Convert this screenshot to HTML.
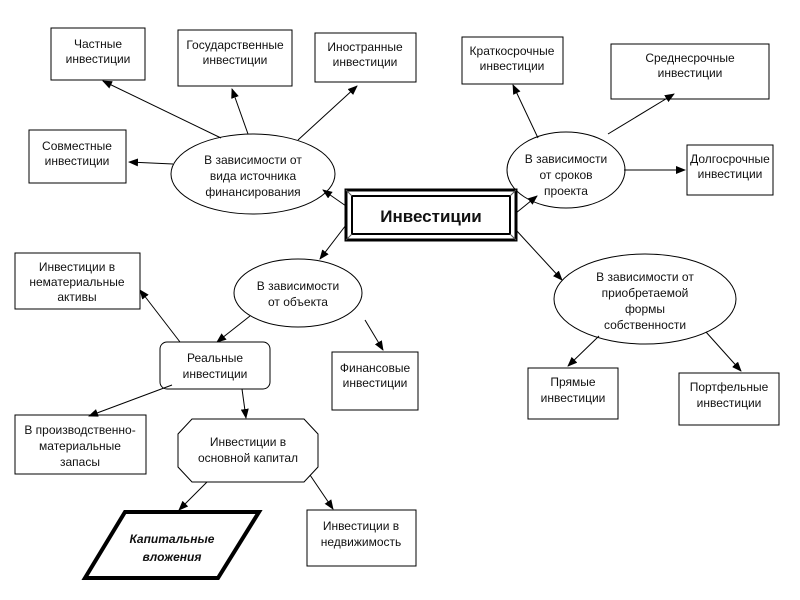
<!DOCTYPE html>
<html><head><meta charset="utf-8"><style>
html,body{margin:0;padding:0;background:#fff;}
svg{display:block;}
text{font-family:"Liberation Sans",sans-serif;font-size:12px;fill:#111;text-anchor:middle;}
</style></head><body>
<svg width="800" height="600" viewBox="0 0 800 600" xmlns="http://www.w3.org/2000/svg">
<defs><marker id="a" markerWidth="10" markerHeight="8" refX="9" refY="4" orient="auto" markerUnits="userSpaceOnUse"><path d="M0,0 L10,4 L0,8 z" fill="#000"/></marker></defs>
<g fill="#fff" stroke="#000" stroke-width="1">
<rect x="51" y="28" width="94" height="52"/>
<rect x="178" y="30" width="114" height="56"/>
<rect x="315" y="33" width="101" height="49"/>
<rect x="29" y="130" width="97" height="53"/>
<ellipse cx="253" cy="174" rx="82" ry="40"/>
<rect x="462" y="37" width="101" height="47"/>
<rect x="611" y="44" width="158" height="55"/>
<ellipse cx="566" cy="170" rx="59" ry="38"/>
<rect x="687" y="145" width="86" height="50"/>
<ellipse cx="298" cy="293" rx="64" ry="34"/>
<ellipse cx="645" cy="299" rx="91" ry="45"/>
<rect x="15" y="253" width="125" height="56"/>
<rect x="160" y="342" width="110" height="47" rx="7"/>
<rect x="332" y="352" width="86" height="58"/>
<rect x="528" y="368" width="90" height="51"/>
<rect x="679" y="373" width="100" height="52"/>
<rect x="15" y="415" width="131" height="59"/>
<polygon points="192,419 304,419 318,434 318,467 304,482 192,482 178,467 178,434"/>
<rect x="307" y="510" width="109" height="56"/>
</g>
<polygon points="125,512 259,512 218,578 85,578" fill="#fff" stroke="#000" stroke-width="4"/>
<rect x="346" y="190" width="170" height="50" fill="#fff" stroke="#000" stroke-width="3"/>
<rect x="352" y="196" width="158" height="38" fill="#fff" stroke="#000" stroke-width="2"/>
<g stroke="#555" stroke-width="1"><line x1="346" y1="190" x2="352" y2="196"/><line x1="516" y1="190" x2="510" y2="196"/><line x1="346" y1="240" x2="352" y2="234"/><line x1="516" y1="240" x2="510" y2="234"/></g>
<g stroke="#000" stroke-width="1" marker-end="url(#a)">
<line x1="221" y1="138" x2="103" y2="81"/>
<line x1="248" y1="134" x2="232" y2="89"/>
<line x1="298" y1="140" x2="357" y2="86"/>
<line x1="173" y1="164" x2="129" y2="162"/>
<line x1="346" y1="206" x2="323" y2="190"/>
<line x1="346" y1="225" x2="320" y2="259"/>
<line x1="516" y1="213" x2="537" y2="196"/>
<line x1="516" y1="230" x2="562" y2="280"/>
<line x1="538" y1="138" x2="513" y2="85"/>
<line x1="608" y1="134" x2="674" y2="94"/>
<line x1="624" y1="170" x2="685" y2="170"/>
<line x1="250" y1="316" x2="217" y2="342"/>
<line x1="365" y1="320" x2="383" y2="350"/>
<line x1="180" y1="342" x2="140" y2="290"/>
<line x1="172" y1="385" x2="89" y2="416"/>
<line x1="242" y1="389" x2="246" y2="418"/>
<line x1="599" y1="336" x2="568" y2="366"/>
<line x1="706" y1="332" x2="741" y2="371"/>
<line x1="207" y1="482" x2="179" y2="510"/>
<line x1="310" y1="475" x2="333" y2="509"/>
</g>
<text x="98" y="48">Частные</text><text x="98" y="63">инвестиции</text>
<text x="235" y="49">Государственные</text><text x="235" y="64">инвестиции</text>
<text x="365" y="51">Иностранные</text><text x="365" y="66">инвестиции</text>
<text x="77" y="150">Совместные</text><text x="77" y="165">инвестиции</text>
<text x="253" y="164">В зависимости от</text><text x="253" y="180">вида источника</text><text x="253" y="196">финансирования</text>
<text x="512" y="55">Краткосрочные</text><text x="512" y="70">инвестиции</text>
<text x="690" y="62">Среднесрочные</text><text x="690" y="77">инвестиции</text>
<text x="566" y="163">В зависимости</text><text x="566" y="179">от сроков</text><text x="566" y="195">проекта</text>
<text x="730" y="163">Долгосрочные</text><text x="730" y="178">инвестиции</text>
<text x="431" y="222" style="font-size:17px;font-weight:bold">Инвестиции</text>
<text x="298" y="290">В зависимости</text><text x="298" y="306">от объекта</text>
<text x="645" y="281">В зависимости от</text><text x="645" y="297">приобретаемой</text><text x="645" y="313">формы</text><text x="645" y="329">собственности</text>
<text x="77" y="271">Инвестиции в</text><text x="77" y="286">нематериальные</text><text x="77" y="301">активы</text>
<text x="215" y="362">Реальные</text><text x="215" y="378">инвестиции</text>
<text x="375" y="372">Финансовые</text><text x="375" y="387">инвестиции</text>
<text x="573" y="386">Прямые</text><text x="573" y="402">инвестиции</text>
<text x="729" y="391">Портфельные</text><text x="729" y="407">инвестиции</text>
<text x="80" y="434">В производственно-</text><text x="80" y="450">материальные</text><text x="80" y="466">запасы</text>
<text x="248" y="446">Инвестиции в</text><text x="248" y="462">основной капитал</text>
<text x="172" y="543" style="font-weight:bold;font-style:italic">Капитальные</text><text x="172" y="561" style="font-weight:bold;font-style:italic">вложения</text>
<text x="361" y="530">Инвестиции в</text><text x="361" y="546">недвижимость</text>
</svg>
</body></html>
